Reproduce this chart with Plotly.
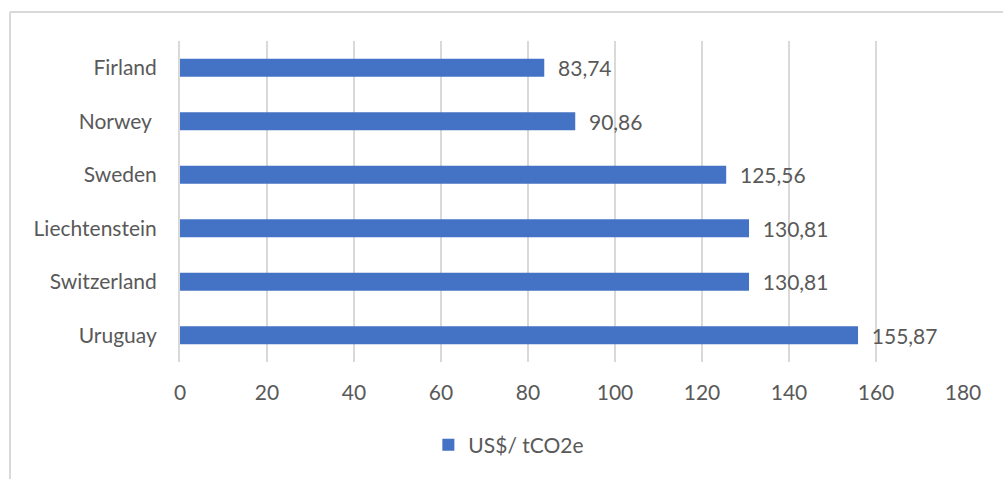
import plotly.graph_objects as go

countries = ["Firland", "Norwey ", "Sweden", "Liechtenstein", "Switzerland", "Uruguay"]
values = [83.74, 90.86, 125.56, 130.81, 130.81, 155.87]
series_name = "US$/ tCO2e"
x_ticks = [0, 20, 40, 60, 80, 100, 120, 140, 160, 180]

TEXT = "#595959"
GRID = "#d9d9d9"
BAR = "#4472C4"
FONT = "Lato"
FS = 21

fig = go.Figure()
fig.add_trace(go.Bar(
    y=countries, x=values, orientation="h", name=series_name,
    marker=dict(color=BAR, line=dict(width=0)),
    texttemplate="\u00a0\u00a0%{x:.2f}", textposition="outside",
    textfont=dict(family=FONT, size=FS, color=TEXT),
    outsidetextfont=dict(family=FONT, size=FS, color=TEXT),
    constraintext="none",
    cliponaxis=False, showlegend=True,
))

fig.update_layout(
    width=1003, height=479,
    margin=dict(l=180, r=40, t=41, b=117, autoexpand=False),
    paper_bgcolor="white", plot_bgcolor="white",
    separators=", ",
    bargap=0.66,
    font=dict(family=FONT, size=FS, color=TEXT),
    legend=dict(orientation="h", x=0.42, xanchor="center", y=-0.195, yanchor="top",
                font=dict(family=FONT, size=FS, color=TEXT),
                itemwidth=30),
    shapes=[
        dict(type="line", xref="paper", yref="paper", x0=-170/783, x1=1.1, y0=(479-12-117)/321, y1=(479-12-117)/321,
             line=dict(color=GRID, width=2)),
        dict(type="line", xref="paper", yref="paper", x0=-170/783, x1=-170/783, y0=-117/321, y1=(479-12-117)/321,
             line=dict(color=GRID, width=2)),
    ],
)
fig.update_xaxes(range=[0, 180], tickvals=x_ticks, showgrid=True, gridcolor=GRID, gridwidth=1.5,
                 zeroline=False, showline=False, ticks="", automargin=False,
                 tickfont=dict(family=FONT, size=FS, color=TEXT), ticklabelstandoff=16)
fig.update_yaxes(autorange="reversed", showgrid=False, zeroline=False, showline=True,
                 linecolor=GRID, linewidth=2, ticks="", automargin=False,
                 tickfont=dict(family=FONT, size=FS, color=TEXT), ticklabelstandoff=17)

fig.write_html("out.html")
